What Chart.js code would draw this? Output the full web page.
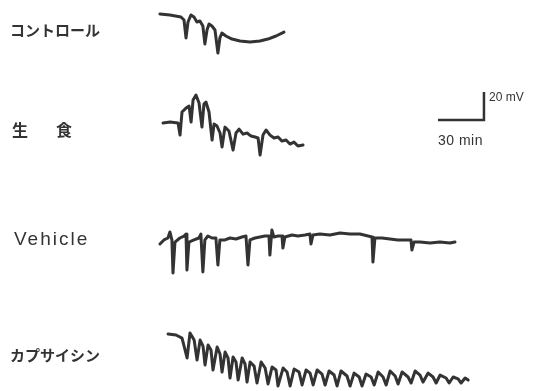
<!DOCTYPE html>
<html>
<head>
<meta charset="utf-8">
<script src="https://cdn.jsdelivr.net/npm/chart.js@4.4.1/dist/chart.umd.min.js"></script>
<style>
  html, body { margin: 0; padding: 0; background: #fff; }
  #wrap { width: 543px; height: 391px; position: relative; }
</style>
</head>
<body>
<div id="wrap"><canvas id="traceChart"></canvas></div>
<script>
// Trace names (left labels)
const traceNames = ['コントロール', '生　食', 'Vehicle', 'カプサイシン'];

// Each trace: time from its own start (min) and potential change (mV)
const controlTime = [0, 6.5, 13.7, 15.7, 17.0, 18.3, 20.2, 22.2, 24.1, 26.1, 28.0, 29.3, 30.7, 32.0, 33.9, 35.9, 37.8, 39.1, 40.4, 43.0, 47.0, 52.2, 58.7, 65.2, 70.4, 75.7, 80.9];
const controlMv = [0, -0.7, -2.1, -4.3, -17.1, -5.7, -0.7, -2.1, -5.7, -5.0, -8.6, -21.4, -11.4, -7.1, -8.6, -11.4, -27.9, -17.1, -13.6, -15.7, -17.9, -19.3, -20.0, -19.3, -17.9, -15.7, -12.9];

const salineTime = [0, 4.6, 9.8, 11.1, 12.4, 15.0, 17.0, 18.3, 19.6, 21.5, 23.5, 25.4, 26.7, 28.0, 30.0, 32.0, 33.3, 35.2, 37.2, 38.5, 40.4, 43.0, 45.7, 47.6, 49.6, 52.2, 54.8, 57.4, 60.0, 62.0, 63.3, 65.2, 67.2, 69.8, 72.4, 75.0, 77.6, 80.2, 82.8, 85.4, 88.0, 91.3];
const salineMv = [0, 0.7, 0, -8.6, 7.9, 10.7, 12.1, 0.7, 16.4, 20.0, 14.3, -2.9, 13.6, 15.0, 7.9, -12.1, -0.7, -2.1, -7.1, -17.1, -2.9, -5.7, -19.3, -7.1, -4.3, -7.9, -7.1, -9.3, -10.0, -10.7, -22.9, -8.6, -5.0, -8.6, -10.7, -10.0, -12.9, -12.1, -15.0, -13.6, -16.4, -15.7];

const vehicleTime = [0, 2.6, 5.2, 6.5, 7.8, 8.5, 9.8, 13.0, 15.7, 17.0, 17.6, 18.9, 22.2, 25.4, 26.7, 28.0, 29.3, 31.3, 33.9, 36.5, 37.8, 39.1, 42.4, 45.7, 49.6, 53.5, 56.1, 57.4, 58.7, 62.0, 65.2, 68.5, 71.1, 71.7, 73.0, 74.3, 77.0, 79.6, 80.2, 81.5, 86.1, 90.0, 94.6, 97.8, 98.5, 99.8, 104.3, 110.9, 117.4, 123.9, 130.4, 135.7, 138.3, 138.9, 140.2, 144.8, 150.0, 155.2, 160.4, 163.7, 164.3, 165.7, 169.6, 176.1, 182.6, 189.1, 192.4];
const vehicleMv = [0, 2.9, 4.3, 8.6, 2.9, -20.7, 1.4, 4.3, 5.7, 7.1, -18.6, 1.4, 2.9, 4.3, 7.1, -20.0, 2.9, 5.7, 4.3, 4.3, -15.0, 2.9, 2.9, 4.3, 3.6, 5.0, 5.7, -15.0, 2.9, 4.3, 5.0, 5.7, 5.7, -7.9, 10.0, 5.0, 5.7, 5.7, -2.9, 5.0, 6.4, 5.7, 6.4, 7.1, 0, 6.4, 7.1, 6.4, 7.9, 7.1, 7.1, 5.7, 5.0, -12.9, 4.3, 4.3, 3.6, 2.9, 2.9, 2.9, -4.3, 1.4, 1.4, 0.7, 1.4, 0.7, 1.4];

const capsaicinTime = [0, 5.2, 9.1, 12.4, 14.3, 17.0, 18.9, 20.9, 22.8, 24.1, 26.1, 28.0, 29.3, 32.0, 33.9, 35.2, 37.2, 39.1, 40.4, 42.4, 44.3, 45.7, 48.3, 50.2, 51.5, 53.5, 56.1, 58.0, 60.7, 63.3, 65.2, 67.8, 70.4, 71.7, 75.0, 77.6, 79.6, 82.2, 85.4, 87.4, 90.0, 92.6, 94.6, 97.2, 100.4, 102.4, 105.0, 108.3, 110.2, 112.8, 116.7, 118.7, 121.3, 124.6, 126.5, 129.1, 132.4, 134.4, 137.0, 140.2, 142.2, 144.8, 148.1, 150.0, 152.6, 156.5, 158.5, 161.1, 164.3, 166.3, 169.6, 172.8, 174.8, 177.4, 181.3, 183.3, 185.9, 189.1, 191.1, 193.7, 195.7];
const capsaicinMv = [0, -0.7, -2.9, -17.1, 0.7, -4.3, -18.6, -4.3, -8.6, -22.1, -7.9, -11.4, -25.7, -9.3, -14.3, -27.1, -12.9, -17.1, -31.4, -16.4, -20.0, -32.9, -17.1, -21.4, -34.3, -20.0, -22.9, -35.0, -20.0, -24.3, -35.7, -23.6, -25.7, -37.1, -24.3, -27.1, -37.1, -25.0, -27.1, -36.4, -25.7, -27.9, -36.4, -25.7, -28.6, -36.4, -26.4, -29.3, -37.1, -26.4, -30.0, -37.1, -27.9, -30.7, -37.1, -28.6, -30.7, -36.4, -27.1, -30.7, -36.4, -26.4, -30.0, -35.7, -27.1, -30.7, -35.0, -26.4, -29.3, -34.3, -27.9, -30.7, -35.0, -29.3, -31.4, -35.0, -30.7, -32.1, -35.0, -31.4, -32.9];

// Scale bar: 30 min x 20 mV
const scaleBarTime = [0, 30, 30];
const scaleBarMv = [0, 0, 20];

// Layout: where each trace sits on the page (min, mV)
const traceStart = [104.3, 106.3, 104.3, 109.6];
const traceBase = [-10.0, -87.9, -174.3, -238.6];
const scaleBarStart = 285.6;
const scaleBarBase = -85.7;

const traceTimes = [controlTime, salineTime, vehicleTime, capsaicinTime];
const traceValues = [controlMv, salineMv, vehicleMv, capsaicinMv];

const ink = '#333333';

function toPoints(times, values, x0, y0) {
    return times.map((t, i) => ({ x: x0 + t, y: y0 + values[i] }));
}

const datasets = traceTimes.map((times, i) => ({
    label: traceNames[i],
    data: toPoints(times, traceValues[i], traceStart[i], traceBase[i]),
    borderColor: ink,
    borderWidth: 3,
    pointRadius: 0,
    tension: 0,
    borderJoinStyle: 'round',
    borderCapStyle: 'round'
}));

datasets.push({
    label: 'scale',
    data: toPoints(scaleBarTime, scaleBarMv, scaleBarStart, scaleBarBase),
    borderColor: ink,
    borderWidth: 2.5,
    pointRadius: 0,
    tension: 0
});

// Label offsets (px) from each trace baseline
const labelDy = [16, 7, -4, 21];

const textPlugin = {
    id: 'traceText',
    afterDraw(chart) {
        const { ctx, scales } = chart;
        ctx.save();
        ctx.fillStyle = ink;
        ctx.textBaseline = 'middle';
        ctx.textAlign = 'left';
        traceNames.forEach((name, i) => {
            const y = scales.y.getPixelForValue(traceBase[i]) + labelDy[i];
            if (name === 'Vehicle') {
                ctx.font = '19px "Liberation Sans", Arial, sans-serif';
                ctx.letterSpacing = '2px';
                ctx.fillText(name, 14, y);
            } else if (name.length === 3) {
                ctx.font = 'bold 16px "Noto Sans CJK JP", sans-serif';
                ctx.letterSpacing = '6px';
                ctx.fillText(name, 12, y);
            } else {
                ctx.font = 'bold 15px "Noto Sans CJK JP", sans-serif';
                ctx.letterSpacing = '0px';
                ctx.fillText(name, 10, y);
            }
        });
        ctx.letterSpacing = '0px';
        const sx = scales.x.getPixelForValue(scaleBarStart + scaleBarTime[1]);
        const sy = scales.y.getPixelForValue(scaleBarBase);
        const sTop = scales.y.getPixelForValue(scaleBarBase + scaleBarMv[2]);
        ctx.font = '12px "Liberation Sans", Arial, sans-serif';
        ctx.fillText('20 mV', sx + 5, sTop + 6);
        ctx.font = '14px "Liberation Sans", Arial, sans-serif';
        ctx.letterSpacing = '0.5px';
        ctx.fillText('30 min', scales.x.getPixelForValue(scaleBarStart), sy + 21);
        ctx.restore();
    }
};

new Chart(document.getElementById('traceChart').getContext('2d'), {
    type: 'line',
    data: { datasets: datasets },
    options: {
        responsive: true,
        maintainAspectRatio: false,
        animation: false,
        layout: { padding: 0 },
        plugins: {
            legend: { display: false },
            tooltip: { enabled: false }
        },
        scales: {
            x: { type: 'linear', min: 0, max: 354.1, display: false },
            y: { type: 'linear', min: -279.3, max: 0, display: false }
        }
    },
    plugins: [textPlugin]
});
</script>
</body>
</html>
